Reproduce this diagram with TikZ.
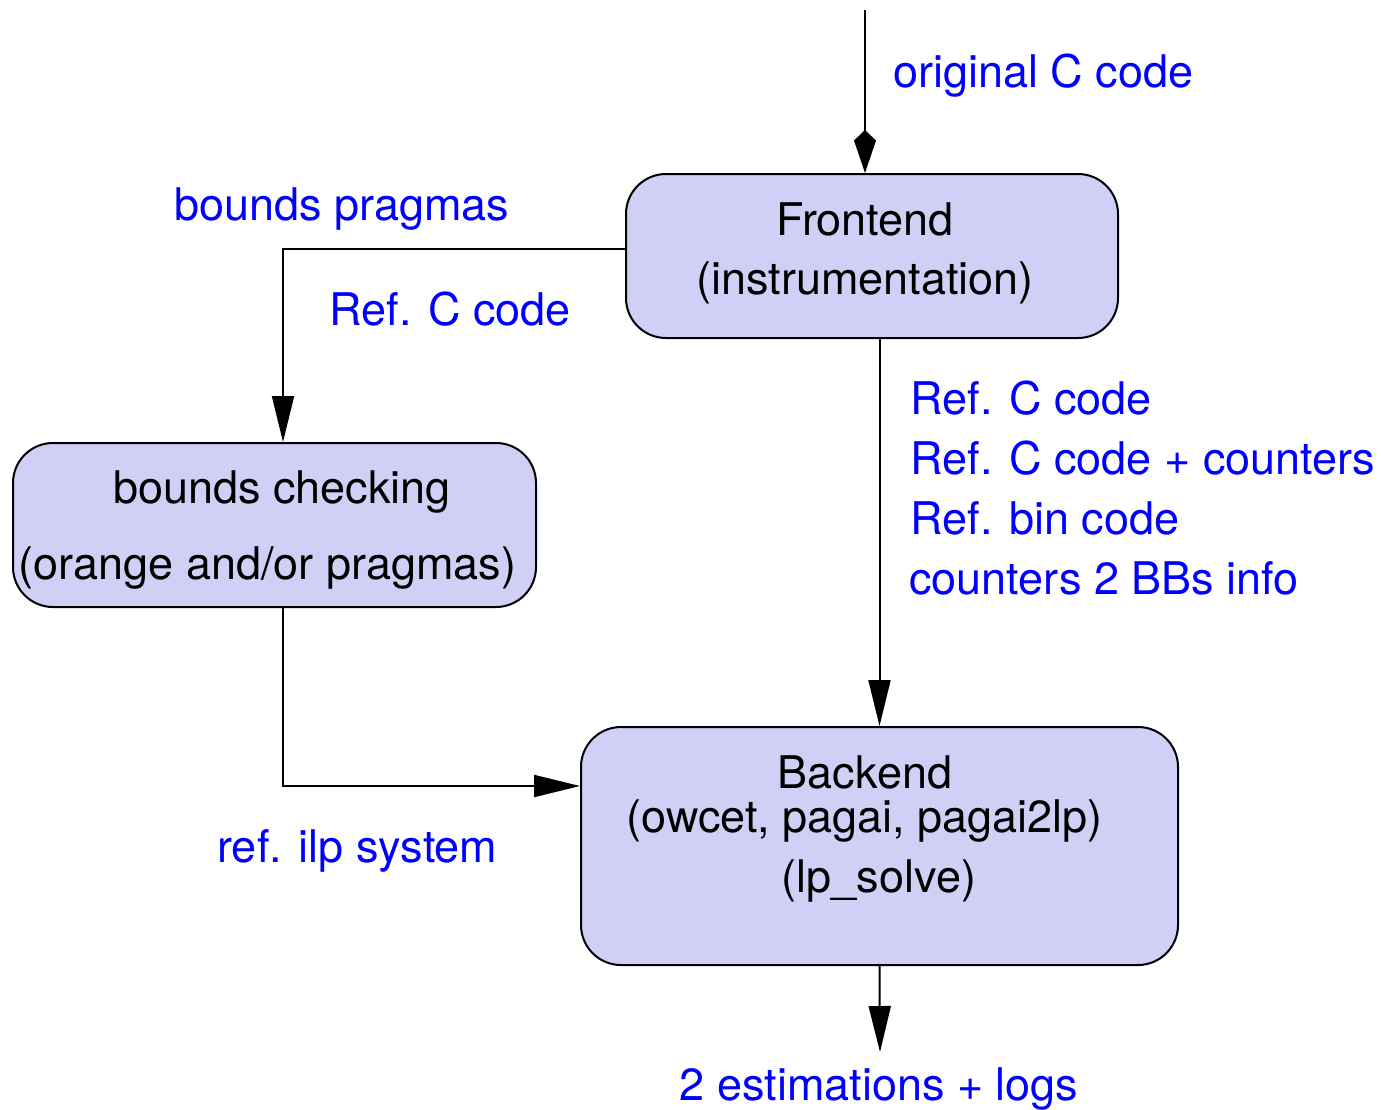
\documentclass[tikz,border=0pt]{standalone}
\usepackage{fontspec}
\setmainfont{TeX Gyre Heros}
\usetikzlibrary{arrows.meta}
\definecolor{boxfill}{RGB}{208,208,246}
\begin{document}
\begin{tikzpicture}[x=0.5pt,y=-0.5pt,font=\fontsize{22.5}{27}\selectfont,
  stage/.style={draw,line width=1pt,fill=boxfill,rounded corners=20pt,inner sep=0pt},
  lbl/.style={text=blue,anchor=base west,inner sep=0pt},
  txt/.style={anchor=base,inner sep=0pt},
  flow/.style={line width=1pt,-{Triangle[length=23pt,width=11pt]}}]
  \useasboundingbox (0,0) rectangle (1381,1109);

  % stages
  \node[stage,minimum width=246pt,minimum height=82pt] (fe) at (872,256) {};
  \node[txt] (feA) at (865,235) {Frontend};
  \node[txt] (feB) at (865,294) {(instrumentation)};

  \node[stage,minimum width=261.5pt,minimum height=82pt] (bc) at (274.5,525) {};
  \node[txt] (bcA) at (282,503) {bounds checking};
  \node[txt] (bcB) at (267.5,579) {(orange and/or pragmas)};

  \node[stage,minimum width=298.5pt,minimum height=119pt] (be) at (879.5,846) {};
  \node[txt] (beA) at (865,788) {Backend};
  \node[txt] (beB) at (864.5,832) {(owcet, pagai, pagai2lp)};
  \node[txt] (beC) at (879,892) {(lp\_solve)};

  % input and output ends
  \coordinate (src) at (865,10);
  \coordinate (sink) at (880,1052);

  % connectors
  \draw[line width=1pt,-{Kite[length=21.5pt,width=11pt,inset=5.3pt]}] (src) -- (src |- fe.north);
  \draw[flow] ([yshift=3.5pt]fe.west) -| ([xshift=4.25pt]bc.north);
  \draw[flow] (fe.south -| be.north) -- (be.north);
  \draw[flow] ([xshift=4.25pt]bc.south) |- ([yshift=30pt]be.west);
  \draw[flow] (be.south) -- (sink);

  % labels
  \node[lbl] (lOrig) at (893,87) {original C code};
  \node[lbl] (lPrag) at (174,220) {bounds pragmas};
  \node[lbl] (lRef) at (329,325) {Ref. C code};
  \node[lbl] (lRefA) at (910,414) {Ref. C code};
  \node[lbl] (lRefB) at (910,474) {Ref. C code + counters};
  \node[lbl] (lRefC) at (910,534) {Ref. bin code};
  \node[lbl] (lRefD) at (909,594) {counters 2 BBs info};
  \node[lbl] (lIlp) at (217,862) {ref. ilp system};
  \node[lbl,anchor=base] (lOut) at (879,1100) {2 estimations + logs};
\end{tikzpicture}
\end{document}
